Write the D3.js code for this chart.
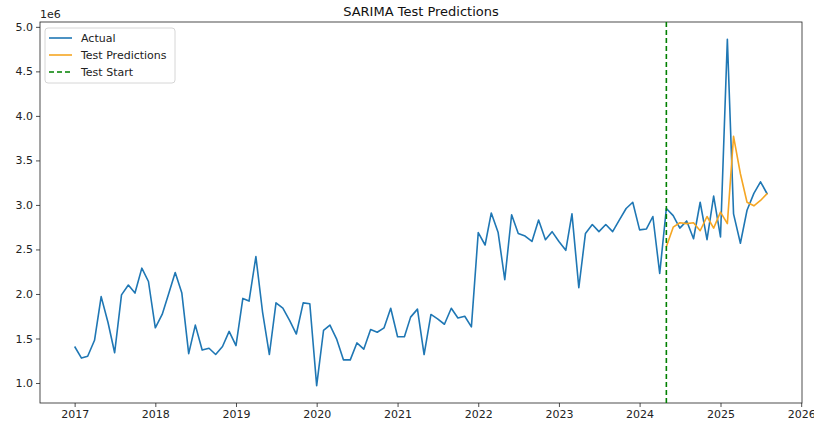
<!DOCTYPE html>
<html>
<head>
<meta charset="utf-8">
<script src="https://cdn.jsdelivr.net/npm/d3@7"></script>
<style>
  body { margin: 0; background: white; }
  svg { display: block; font-family: "DejaVu Sans", sans-serif; }
</style>
</head>
<body>
<svg id="chart" width="814" height="423"></svg>
<script>
// monthly actual values (millions), Jan 2017 .. Aug 2025
const actualValues = [
  1.41, 1.28, 1.30, 1.48, 1.97, 1.68, 1.34, 1.99, 2.10, 2.01, 2.29, 2.14, // 2017
  1.62, 1.77, 1.99, 2.24, 2.01, 1.33, 1.65, 1.37, 1.39, 1.32, 1.41, 1.58, // 2018
  1.42, 1.95, 1.92, 2.42, 1.80, 1.32, 1.90, 1.84, 1.70, 1.55, 1.90, 1.89, // 2019
  0.97, 1.59, 1.65, 1.49, 1.26, 1.26, 1.45, 1.38, 1.60, 1.57, 1.62, 1.84, // 2020
  1.52, 1.52, 1.74, 1.83, 1.32, 1.77, 1.72, 1.66, 1.84, 1.73, 1.75, 1.63, // 2021
  2.69, 2.55, 2.91, 2.69, 2.16, 2.89, 2.68, 2.65, 2.59, 2.83, 2.61, 2.70, // 2022
  2.59, 2.49, 2.90, 2.07, 2.68, 2.78, 2.70, 2.78, 2.70, 2.83, 2.96, 3.03, // 2023
  2.72, 2.73, 2.87, 2.23, 2.96, 2.88, 2.74, 2.82, 2.62, 3.03, 2.61, 3.10, // 2024
  2.64, 4.86, 2.90, 2.57, 2.94, 3.13, 3.26, 3.12                          // 2025
];
const actualStart = [2017, 0];

// SARIMA test predictions, May 2024 .. Aug 2025
const predValues = [
  2.53, 2.75, 2.80, 2.79, 2.80, 2.71, 2.87, 2.74,
  2.92, 2.79, 3.77, 3.35, 3.03, 2.99, 3.05, 3.13
];
const predStart = [2024, 4];
const testStart = [2024, 4];

const yTicks = [1.0, 1.5, 2.0, 2.5, 3.0, 3.5, 4.0, 4.5, 5.0];
const xTickYears = [2017, 2018, 2019, 2020, 2021, 2022, 2023, 2024, 2025, 2026];

const SCALE = 1e6;
const monthDate = (start, i) => new Date(start[0], start[1] + i, 1);

const actual = actualValues.map((v, i) => ({ date: monthDate(actualStart, i), value: v * SCALE }));
const preds = predValues.map((v, i) => ({ date: monthDate(predStart, i), value: v * SCALE }));

const svg = d3.select('#chart');
const plotLeft = 40, plotRight = 802, plotTop = 22, plotBottom = 403;

// matplotlib style 5% margins
const xExt = d3.extent(actual, d => d.date);
const xPad = (xExt[1] - xExt[0]) * 0.05;
const x = d3.scaleTime()
  .domain([new Date(+xExt[0] - xPad), new Date(+xExt[1] + xPad)])
  .range([plotLeft, plotRight]);

const allVals = actual.concat(preds).map(d => d.value);
const yMin = d3.min(allVals), yMax = d3.max(allVals);
const yPad = (yMax - yMin) * 0.05;
const y = d3.scaleLinear()
  .domain([yMin - yPad, yMax + yPad])
  .range([plotBottom, plotTop]);

// axes
const xAxis = d3.axisBottom(x)
  .tickValues(xTickYears.map(yr => new Date(yr, 0, 1)))
  .tickFormat(d3.timeFormat('%Y'))
  .tickSize(4).tickPadding(3);
const yAxis = d3.axisLeft(y)
  .tickValues(yTicks.map(v => v * SCALE))
  .tickFormat(d => (d / SCALE).toFixed(1))
  .tickSize(4).tickPadding(3);

const gx = svg.append('g').attr('transform', `translate(0,${plotBottom})`).call(xAxis);
const gy = svg.append('g').attr('transform', `translate(${plotLeft},0)`).call(yAxis);
[gx, gy].forEach(g => {
  g.select('.domain').remove();
  g.selectAll('text').attr('font-size', 11).attr('fill', '#222').attr('font-family', '"DejaVu Sans", sans-serif');
  g.selectAll('line').attr('stroke', '#222').attr('stroke-width', 0.8);
});

// frame
svg.append('rect')
  .attr('x', plotLeft).attr('y', plotTop)
  .attr('width', plotRight - plotLeft).attr('height', plotBottom - plotTop)
  .attr('fill', 'none').attr('stroke', '#222').attr('stroke-width', 0.8);

// offset label and title
svg.append('text')
  .attr('x', plotLeft).attr('y', 18)
  .attr('font-size', 11).attr('fill', '#222')
  .text('1e6');
svg.append('text')
  .attr('x', (plotLeft + plotRight) / 2).attr('y', 16)
  .attr('text-anchor', 'middle')
  .attr('font-size', 13).attr('fill', '#111')
  .text('SARIMA Test Predictions');

// lines
const line = d3.line().x(d => x(d.date)).y(d => y(d.value));

svg.append('path')
  .datum(actual)
  .attr('d', line)
  .attr('fill', 'none')
  .attr('stroke', '#1f77b4')
  .attr('stroke-width', 1.6)
  .attr('stroke-linejoin', 'round');

svg.append('path')
  .datum(preds)
  .attr('d', line)
  .attr('fill', 'none')
  .attr('stroke', '#f5a623')
  .attr('stroke-width', 1.6)
  .attr('stroke-linejoin', 'round');

const tx = x(monthDate(testStart, 0));
svg.append('line')
  .attr('x1', tx).attr('x2', tx)
  .attr('y1', plotTop).attr('y2', plotBottom)
  .attr('stroke', 'green')
  .attr('stroke-width', 1.6)
  .attr('stroke-dasharray', '5,3');

// legend
const legendItems = [
  { label: 'Actual', color: '#1f77b4', dash: null },
  { label: 'Test Predictions', color: '#f5a623', dash: null },
  { label: 'Test Start', color: 'green', dash: '5,3' }
];
const lg = svg.append('g').attr('transform', `translate(${plotLeft + 5},${plotTop + 6})`);
lg.append('rect')
  .attr('width', 130).attr('height', 55)
  .attr('rx', 3)
  .attr('fill', 'white').attr('fill-opacity', 0.8)
  .attr('stroke', '#ccc').attr('stroke-width', 0.8);
legendItems.forEach((it, i) => {
  const g = lg.append('g').attr('transform', `translate(0,${10 + i * 17})`);
  g.append('line')
    .attr('x1', 4).attr('x2', 27)
    .attr('stroke', it.color).attr('stroke-width', 1.6)
    .attr('stroke-dasharray', it.dash);
  g.append('text')
    .attr('x', 36).attr('y', 4)
    .attr('font-size', 11).attr('fill', '#222')
    .text(it.label);
});
</script>
</body>
</html>
